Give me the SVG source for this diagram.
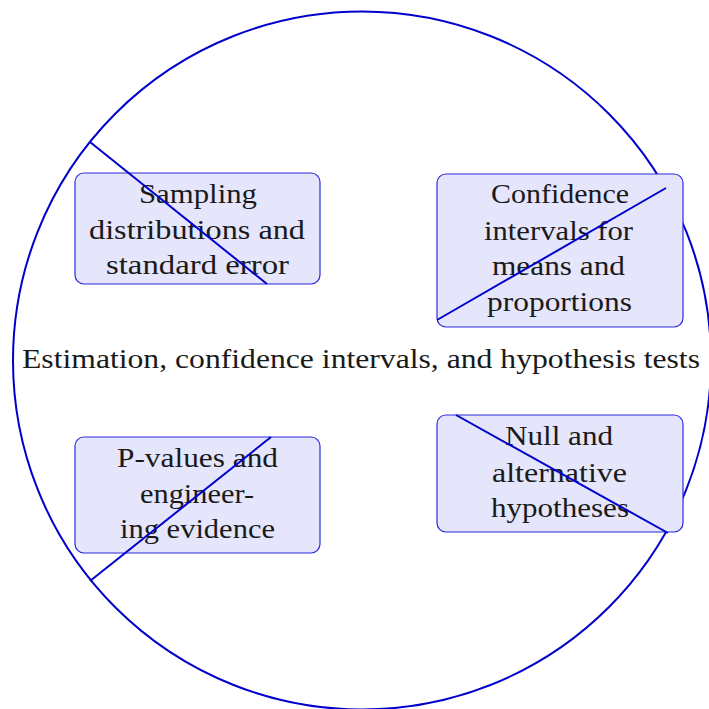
<svg xmlns="http://www.w3.org/2000/svg" width="709" height="709" viewBox="0 0 709 709">
<style>
.ring{fill:none;stroke:#0000cc;stroke-width:2}
.box{fill:#e5e5fb;stroke:#2a2ae0;stroke-width:1.2}
.edge{stroke:#0000cc;stroke-width:2;fill:none}
text{font-family:"Liberation Serif","DejaVu Serif",serif;font-size:28px;fill:#1a1a1a;text-anchor:middle}
</style>
<rect width="709" height="709" fill="#fff"/>
<g id="root">
<circle class="ring" cx="362" cy="360.5" r="349"/>
<text x="361" y="368" textLength="678" lengthAdjust="spacingAndGlyphs">Estimation, confidence intervals, and hypothesis tests</text>
</g>
<g id="n1">
<rect class="box" x="75" y="173" width="245" height="111" rx="9"/>
<text x="198" y="203" textLength="118" lengthAdjust="spacingAndGlyphs">Sampling</text>
<text x="197" y="238.5" textLength="216" lengthAdjust="spacingAndGlyphs">distributions and</text>
<text x="197.5" y="274" textLength="183" lengthAdjust="spacingAndGlyphs">standard error</text>
</g>
<g id="n2">
<rect class="box" x="437" y="174" width="246" height="153" rx="9"/>
<text x="560" y="203" textLength="138" lengthAdjust="spacingAndGlyphs">Confidence</text>
<text x="558.5" y="239.5" textLength="149" lengthAdjust="spacingAndGlyphs">intervals for</text>
<text x="558.5" y="275" textLength="133" lengthAdjust="spacingAndGlyphs">means and</text>
<text x="559.5" y="310.5" textLength="145" lengthAdjust="spacingAndGlyphs">proportions</text>
</g>
<g id="n3">
<rect class="box" x="75" y="437" width="245" height="116" rx="9"/>
<text x="197.5" y="467" textLength="161" lengthAdjust="spacingAndGlyphs">P-values and</text>
<text x="197" y="503" textLength="114" lengthAdjust="spacingAndGlyphs">engineer-</text>
<text x="197.5" y="538" textLength="155" lengthAdjust="spacingAndGlyphs">ing evidence</text>
</g>
<g id="n4">
<rect class="box" x="437" y="415" width="246" height="117" rx="9"/>
<text x="559" y="445" textLength="108" lengthAdjust="spacingAndGlyphs">Null and</text>
<text x="559.5" y="481.5" textLength="135" lengthAdjust="spacingAndGlyphs">alternative</text>
<text x="560" y="517" textLength="138" lengthAdjust="spacingAndGlyphs">hypotheses</text>
</g>
<g id="connectors">
<line class="edge" x1="90" y1="142" x2="267" y2="284"/>
<line class="edge" x1="666" y1="188" x2="437" y2="320"/>
<line class="edge" x1="90" y1="581" x2="271" y2="437"/>
<line class="edge" x1="456" y1="415" x2="668" y2="533"/>
</g>
</svg>
